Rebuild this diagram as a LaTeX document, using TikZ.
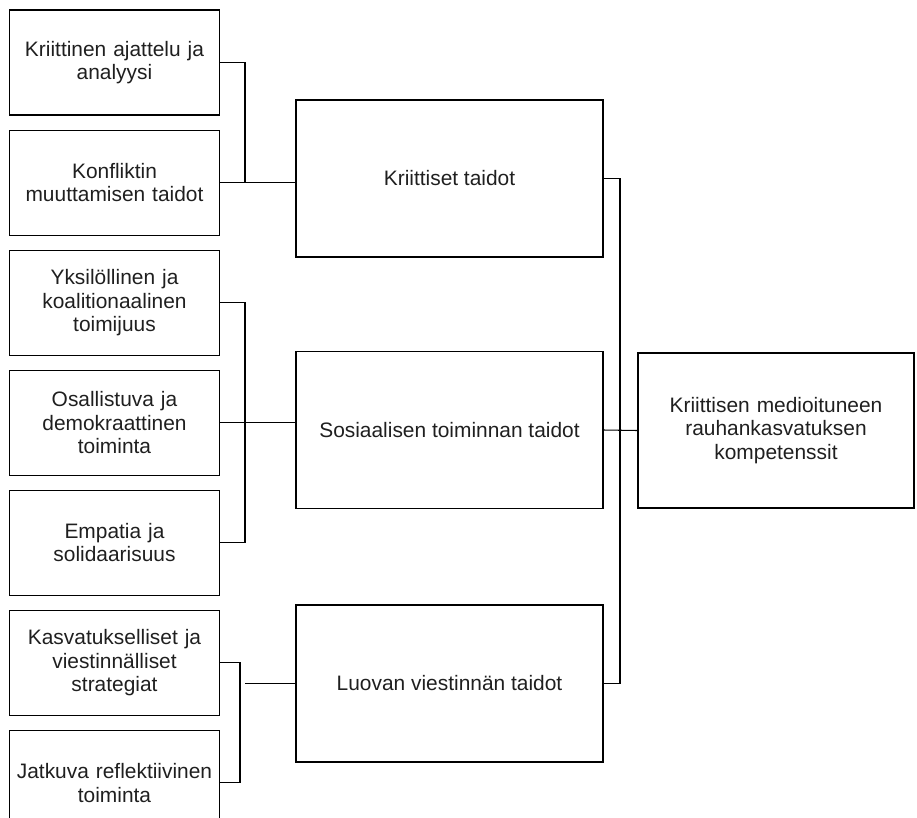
\documentclass[tikz,border=0pt]{standalone}
\usepackage{fontspec}
\setmainfont{Liberation Sans}
\usetikzlibrary{positioning, calc}
\tikzset{
    font=\fontsize{11.9}{13.4}\selectfont,
    % Shapes
    leaf/.style={rectangle, draw=black, line width=0.6pt, text=black!88,
                 minimum width=4.18cm, minimum height=2.1cm, align=center, text width=3.95cm},
    mid/.style={rectangle, draw=black, line width=0.6pt, text=black!88,
                minimum width=6.14cm, minimum height=3.14cm, align=center},
    root/.style={rectangle, draw=black, line width=0.6pt, text=black!88,
                 minimum width=5.52cm, minimum height=3.1cm, align=center, text width=5cm},
    % Links
    link/.style={line width=0.6pt, black}
}

\begin{document}
\begin{tikzpicture}[node distance=0.28cm]

\useasboundingbox (0,0) rectangle (18.34,-16.34);

% Vasen sarake
\node[leaf] (k1) at (2.29,-1.25) {Kriittinen ajattelu ja\\analyysi};
\node[leaf, below=of k1] (k2) {Konfliktin\\muuttamisen taidot};
\node[leaf, below=of k2] (s1) {Yksilöllinen ja\\koalitionaalinen\\toimijuus};
\node[leaf, below=of s1] (s2) {Osallistuva ja\\demokraattinen\\toiminta};
\node[leaf, below=of s2] (s3) {Empatia ja\\solidaarisuus};
\node[leaf, below=of s3] (l1) {Kasvatukselliset ja\\viestinnälliset\\strategiat};
\node[leaf, below=of l1] (l2) {Jatkuva reflektiivinen\\toiminta};

% Keskisarake
\node[mid] (kriit) at (8.99,-3.57) {Kriittiset taidot};
\node[mid] (sos) at (8.99,-8.6) {Sosiaalisen toiminnan taidot};
\node[mid] (luova) at (8.99,-13.67) {Luovan viestinnän taidot};

% Oikea
\node[root] (komp) at (15.52,-8.61) {Kriittisen medioituneen\\rauhankasvatuksen\\kompetenssit};

% Haarukat
\coordinate (b1) at (4.9,0);
\coordinate (b2) at (4.9,0);
\coordinate (b3) at (4.8,0);
\coordinate (b4) at (12.4,0);

\draw[link] (k1.east) -- (k1.east -| b1) -- (k2.east -| b1) -- (k2.east);
\draw[link] (k2.east -| b1) -- (k2.east -| kriit.west);

\draw[link] (s1.east) -- (s1.east -| b2) -- (s3.east -| b2) -- (s3.east);
\draw[link] (s2.east) -- (s2.east -| sos.west);

\draw[link] (l1.east) -- (l1.east -| b3) -- (l2.east -| b3) -- (l2.east);
\draw[link] ($(b3 |- luova.west)+(0.1,0)$) -- (luova.west);

\draw[link] (kriit.east) -- (kriit.east -| b4) -- (luova.east -| b4) -- (luova.east);
\draw[link] (sos.east) -- (komp.west);

\end{tikzpicture}
\end{document}
